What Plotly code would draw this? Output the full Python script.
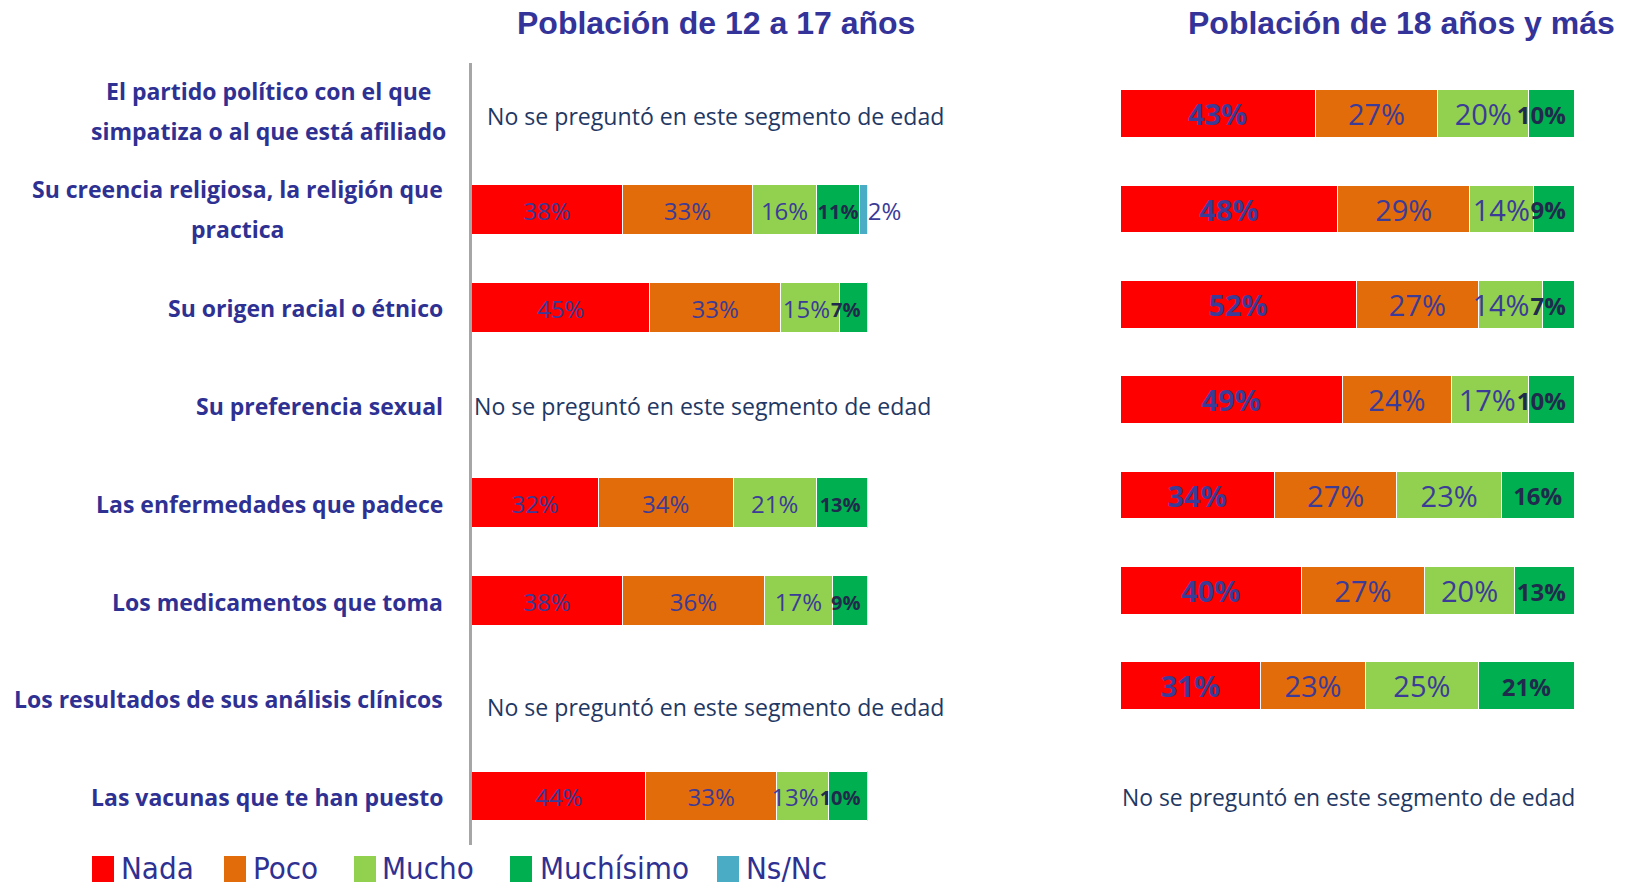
import plotly.graph_objects as go

# ---------------- data ----------------
categories = [
    "El partido político con el que<br>simpatiza o al que está afiliado",
    "Su creencia religiosa, la religión que<br>practica",
    "Su origen racial o étnico",
    "Su preferencia sexual",
    "Las enfermedades que padece",
    "Los medicamentos que toma",
    "Los resultados de sus análisis clínicos",
    "Las vacunas que te han puesto",
]
series_names = ["Nada", "Poco", "Mucho", "Muchísimo", "Ns/Nc"]
series_colors = ["#FF0000", "#E36C0A", "#92D050", "#00B050", "#4BACC6"]

nada_12 = [None, 38, 45, None, 32, 38, None, 44]
poco_12 = [None, 33, 33, None, 34, 36, None, 33]
mucho_12 = [None, 16, 15, None, 21, 17, None, 13]
muchisimo_12 = [None, 11, 7, None, 13, 9, None, 10]
nsnc_12 = [None, 2, None, None, None, None, None, None]

nada_18 = [43, 48, 52, 49, 34, 40, 31, None]
poco_18 = [27, 29, 27, 24, 27, 27, 23, None]
mucho_18 = [20, 14, 14, 17, 23, 20, 25, None]
muchisimo_18 = [10, 9, 7, 10, 16, 13, 21, None]

titles = ["Población de 12 a 17 años", "Población de 18 años y más"]
not_asked = "No se preguntó en este segmento de edad"

# ---------------- layout constants ----------------
W, H = 1626, 888
rows = list(range(len(categories)))

L_X0, L_X1 = 471.7, 867.7
R_X0, R_X1 = 1120.0, 1574.0
L_PX = (L_X1 - L_X0) / 100.0
R_PX = (R_X1 - R_X0) / 100.0

BLUE_TXT = "#3B3B98"
DARK_TXT = "#1F2A4D"
LABEL_COL = "#2E3192"
TITLE_COL = "#333399"
NOTE_COL = "#1F3864"

reg_l = dict(family="Open Sans", size=24, color=BLUE_TXT)
bold_l = dict(family="Open Sans", size=20, color=DARK_TXT, weight="bold")
reg_r = dict(family="Open Sans", size=29, color=BLUE_TXT)
boldnada_r = dict(family="Open Sans", size=29, color=BLUE_TXT, weight="bold")
bold_r = dict(family="Open Sans", size=24, color=DARK_TXT, weight="bold")

left_series = [nada_12, poco_12, mucho_12, muchisimo_12, nsnc_12]
right_series = [nada_18, poco_18, mucho_18, muchisimo_18]
left_fonts = [reg_l, reg_l, reg_l, bold_l, reg_l]
right_fonts = [boldnada_r, reg_r, reg_r, bold_r]

fig = go.Figure()


def text_w_units(label, size, px_per_unit):
    return (0.572 * (len(label) - 1) + 0.86) * size / px_per_unit


def add_panel(series, fonts, xa, ya, bar_w, px_per_unit, text_dy, outside_last):
    n = len(series)
    # label centres per series/row, computed from the stacked values
    centres = [[None] * len(rows) for _ in range(n)]
    widths = [[0.0] * len(rows) for _ in range(n)]
    for r in rows:
        start = 0.0
        for i in range(n):
            v = series[i][r]
            if v is None:
                continue
            label = f"{v}%"
            if outside_last and i == n - 1:
                centres[i][r] = start + v
            else:
                wu = text_w_units(label, fonts[i]["size"], px_per_unit)
                widths[i][r] = wu
                centres[i][r] = min(start + v / 2.0, 98.1 - wu / 2.0)
            start += v
        # push labels left if they would run into the following one
        for i in range(n - 2, -1, -1):
            if centres[i][r] is None or (outside_last and i == n - 1):
                continue
            for j in range(i + 1, n):
                if centres[j][r] is not None and not (outside_last and j == n - 1):
                    gap = (centres[j][r] - widths[j][r] / 2.0) - (centres[i][r] + widths[i][r] / 2.0)
                    if gap < 0:
                        centres[i][r] += gap - 1.0 / px_per_unit
                    break

    for i, vals in enumerate(series):
        fig.add_trace(go.Bar(
            y=rows, x=vals, orientation="h", name=series_names[i],
            marker=dict(color=series_colors[i], line=dict(color="white", width=1)),
            width=bar_w, xaxis=xa, yaxis=ya, showlegend=False, hoverinfo="skip",
        ))
        is_out = outside_last and i == n - 1
        xs, ys, ts = [], [], []
        for r, v in zip(rows, vals):
            if v is None:
                continue
            xs.append(centres[i][r])
            ys.append(r + text_dy)
            ts.append(f"{v}%")
        fig.add_trace(go.Scatter(
            x=xs, y=ys, text=ts, mode="text",
            textposition="middle right" if is_out else "middle center",
            textfont=fonts[i], cliponaxis=False,
            xaxis=xa, yaxis=ya, showlegend=False, hoverinfo="skip",
        ))


add_panel(left_series, left_fonts, "x", "y", 0.51, L_PX, 0.045, True)
add_panel(right_series, right_fonts, "x2", "y2", 0.5, R_PX, 0.045, False)

annotations = []

# panel titles
for t, xc in zip(titles, [715.5, 1401]):
    annotations.append(dict(
        text=t, xref="paper", yref="paper", x=xc / W, y=1 - 23 / H,
        xanchor="center", yanchor="middle", showarrow=False,
        font=dict(family="Liberation Sans, Arial", size=32, color=TITLE_COL, weight="bold"),
    ))

# category labels (multi-line ones centred as a block)
label_font = dict(family="Open Sans", size=23, color=LABEL_COL, weight="bold")
block_centers = {0: 268, 1: 237}
for r, cat in enumerate(categories):
    lines = cat.split("<br>")
    if len(lines) == 1:
        annotations.append(dict(
            text=cat, xref="paper", yref="y", x=445 / W, y=r, yshift=-1,
            xanchor="right", yanchor="middle", showarrow=False, font=label_font,
        ))
    else:
        nl = len(lines)
        for k, ln in enumerate(lines):
            annotations.append(dict(
                text=ln, xref="paper", yref="y", x=block_centers[r] / W, y=r,
                yshift=1 + (nl - 1) * 20 - k * 40,
                xanchor="center", yanchor="middle", showarrow=False, font=label_font,
            ))

# "not asked" notes
left_note_font = dict(family="Open Sans", size=23.1, color=NOTE_COL)
right_note_font = dict(family="Open Sans", size=22.9, color=NOTE_COL)
left_shift = {0: (13, -4), 3: (0, -1), 6: (13, -9)}
for r in rows:
    if nada_12[r] is None:
        xs_, ys_ = left_shift.get(r, (0, 0))
        annotations.append(dict(
            text=not_asked, xref="x", yref="y", x=0, y=r, xshift=xs_, yshift=ys_,
            xanchor="left", yanchor="middle", showarrow=False, font=left_note_font,
        ))
    if nada_18[r] is None:
        annotations.append(dict(
            text=not_asked, xref="x2", yref="y2", x=0, y=r, xshift=0, yshift=-16,
            xanchor="left", yanchor="middle", showarrow=False, font=right_note_font,
        ))

# manual legend
shapes = []
leg_sq_x = [92, 224, 354, 510, 717]
leg_tx_x = [119, 251, 380, 538, 744]
for name, col, sx, tx in zip(series_names, series_colors, leg_sq_x, leg_tx_x):
    shapes.append(dict(type="rect", xref="paper", yref="paper",
                       x0=sx / W, x1=(sx + 22) / W, y0=1 - 882 / H, y1=1 - 856 / H,
                       fillcolor=col, line=dict(width=0)))
    annotations.append(dict(
        text=name, xref="paper", yref="paper", x=tx / W, y=1 - 868 / H,
        xanchor="left", yanchor="middle", showarrow=False,
        font=dict(family="DejaVu Sans Condensed", size=31, color=LABEL_COL),
    ))

hidden = dict(showgrid=False, zeroline=False, showticklabels=False, ticks="", fixedrange=True)

fig.update_layout(
    width=W, height=H, margin=dict(l=0, r=0, t=0, b=0),
    paper_bgcolor="white", plot_bgcolor="white",
    barmode="stack", bargap=0,
    xaxis=dict(domain=[L_X0 / W, L_X1 / W], range=[0, 100], anchor="y", **hidden),
    yaxis=dict(domain=[1 - 844.9 / H, 1 - 62.9 / H], range=[7.5, -0.5], anchor="x",
               showline=True, linecolor="#A6A6A6", linewidth=3, **hidden),
    xaxis2=dict(domain=[R_X0 / W, R_X1 / W], range=[0, 100], anchor="y2", **hidden),
    yaxis2=dict(domain=[1 - 828.8 / H, 1 - 66.05 / H], range=[7.5, -0.5], anchor="x2",
                showline=False, **hidden),
    annotations=annotations, shapes=shapes, showlegend=False,
)

fig.write_html(
    "out.html",
    config={"displayModeBar": False, "staticPlot": True},
    post_script="document.body.style.margin='0';document.body.style.overflow='hidden';",
)
